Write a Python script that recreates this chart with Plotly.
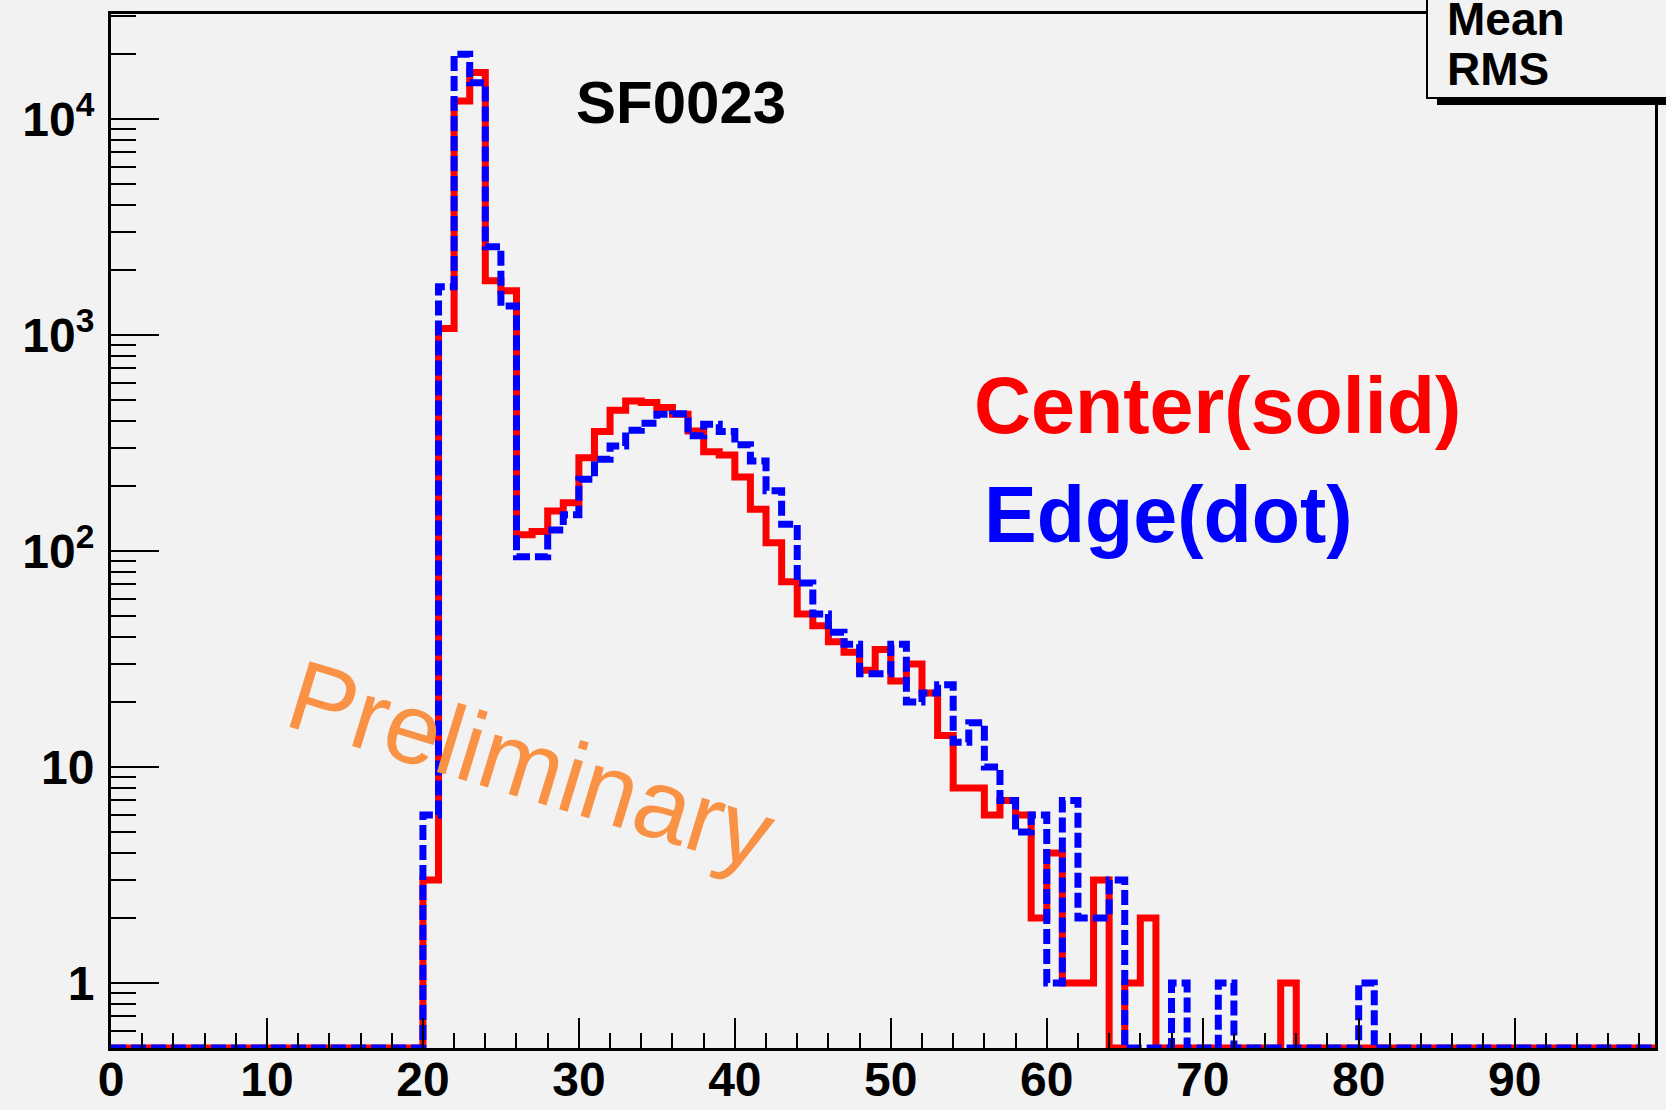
import plotly.graph_objects as go

# ---------------- data (bin width 1, lower edges 0..98) ----------------
bin_lo_edges = list(range(0, 100))  # edges 0..99

center_counts = [
    0, 0, 0, 0, 0, 0, 0, 0, 0, 0,
    0, 0, 0, 0, 0, 0, 0, 0, 0, 0,
    3, 1070, 12100, 16400, 1780, 1600, 119, 123, 153, 167,
    270, 357, 448, 495, 486, 461, 429, 359, 288, 278,
    220, 156, 109, 72, 51, 45, 38, 34, 28, 35,
    25, 30, 22, 14, 8, 8, 6, 7, 6, 2,
    4, 1, 1, 3, 0, 1, 2, 0, 0, 0,
    0, 0, 0, 0, 0, 1, 0, 0, 0, 0,
    0, 0, 0, 0, 0, 0, 0, 0, 0, 0,
    0, 0, 0, 0, 0, 0, 0, 0, 0,
]

edge_counts = [
    0, 0, 0, 0, 0, 0, 0, 0, 0, 0,
    0, 0, 0, 0, 0, 0, 0, 0, 0, 0,
    6, 1670, 19900, 14700, 2560, 1360, 94, 94, 125, 147,
    215, 266, 306, 362, 390, 429, 432, 341, 386, 357,
    310, 261, 190, 133, 71, 51, 42, 37, 27, 27,
    37, 20, 22, 24, 13, 16, 10, 7, 5, 6,
    1, 7, 2, 2, 3, 0, 0, 0, 1, 0,
    0, 1, 0, 0, 0, 0, 0, 0, 0, 0,
    1, 0, 0, 0, 0, 0, 0, 0, 0, 0,
    0, 0, 0, 0, 0, 0, 0, 0, 0,
]

y_tick_vals = [1, 10, 100, 1000, 10000]
y_tick_text = ["1", "10", "10<sup>2</sup>", "10<sup>3</sup>", "10<sup>4</sup>"]
y_minor_vals = [0.6, 0.7, 0.8, 0.9,
                2, 3, 4, 5, 6, 7, 8, 9,
                20, 30, 40, 50, 60, 70, 80, 90,
                200, 300, 400, 500, 600, 700, 800, 900,
                2000, 3000, 4000, 5000, 6000, 7000, 8000, 9000,
                20000, 30000]

Y_MIN = 0.5
Y_MAX = 30600
X_MIN, X_MAX = 0, 99

BG = "#f2f2f2"
FONT = "Liberation Sans"


def step_y(counts):
    ys = [c if c > 0 else Y_MIN for c in counts]
    return ys + [ys[-1]]


fig = go.Figure()
fig.add_trace(go.Scatter(
    x=bin_lo_edges, y=step_y(center_counts), mode="lines",
    line=dict(color="#ff0000", width=7, shape="hv"),
    showlegend=False, hoverinfo="skip"))
fig.add_trace(go.Scatter(
    x=bin_lo_edges, y=step_y(edge_counts), mode="lines",
    line=dict(color="#0000ff", width=7, shape="hv", dash="15px,5px"),
    showlegend=False, hoverinfo="skip"))

# plot frame geometry (pixels) for paper-coordinate helpers
L, R, T, B = 111, 1655, 14, 1047.7
W, H = R - L, B - T


def px(xp):
    return (xp - L) / W


def py(yp):
    return (B - yp) / H


fig.update_layout(
    width=1666, height=1110,
    margin=dict(l=L, r=1666 - R, t=T, b=1110 - B, pad=0),
    paper_bgcolor=BG, plot_bgcolor=BG,
    font=dict(family=FONT, color="black"),
    xaxis=dict(
        range=[X_MIN, X_MAX], showgrid=False, zeroline=False, automargin=False,
        showline=True, linecolor="black", linewidth=3, mirror=True,
        ticks="inside", ticklen=30, tickwidth=2, tickcolor="black",
        tick0=0, dtick=10,
        minor=dict(ticks="inside", ticklen=15, tickwidth=2, tickcolor="black", dtick=2, tick0=0),
        tickfont=dict(family=FONT, size=48, weight="bold", color="black"),
        ticklabelstandoff=-13,
    ),
    yaxis=dict(
        type="log", range=[-0.30103, 4.4857], showgrid=False, zeroline=False,
        automargin=False,
        showline=True, linecolor="black", linewidth=3, mirror=True,
        ticks="inside", ticklen=48, tickwidth=2, tickcolor="black",
        tickmode="array", tickvals=y_tick_vals, ticktext=y_tick_text,
        minor=dict(ticks="inside", ticklen=25, tickwidth=2, tickcolor="black",
                   tickmode="array", tickvals=y_minor_vals),
        tickfont=dict(family=FONT, size=48, weight="bold", color="black"),
        ticklabelstandoff=4,
    ),
)

# stat box with shadow (top-right)
fig.add_shape(type="rect", xref="paper", yref="paper",
              x0=px(1437), x1=1.05, y0=py(105), y1=1.05,
              fillcolor="black", line=dict(width=0), layer="above")
fig.add_shape(type="rect", xref="paper", yref="paper",
              x0=px(1427), x1=1.05, y0=py(98), y1=1.05,
              fillcolor=BG, line=dict(color="black", width=2), layer="above")

annos = [
    dict(text="<b>Mean</b>", x=px(1445), y=py(19), xanchor="left", yanchor="middle",
         font=dict(size=46, color="black", family=FONT)),
    dict(text="<b>RMS</b>", x=px(1445), y=py(69), xanchor="left", yanchor="middle",
         font=dict(size=46, color="black", family=FONT)),
    dict(text="<b>SF0023</b>", x=px(681), y=py(102), xanchor="center", yanchor="middle",
         font=dict(size=60, color="black", family=FONT)),
    dict(text="<b>Center(solid)</b>", x=px(972), y=py(405), xanchor="left", yanchor="middle",
         font=dict(size=79, color="#ff0000", family=FONT)),
    dict(text="<b>Edge(dot)</b>", x=px(982), y=py(514), xanchor="left", yanchor="middle",
         font=dict(size=79, color="#0000ff", family=FONT)),
    dict(text="Preliminary", x=px(531), y=py(764), xanchor="center", yanchor="middle",
         textangle=17, font=dict(size=100, color="rgb(249,146,69)", family=FONT)),
]
for a in annos:
    fig.add_annotation(xref="paper", yref="paper", showarrow=False, **a)

fig.write_html("out.html")
